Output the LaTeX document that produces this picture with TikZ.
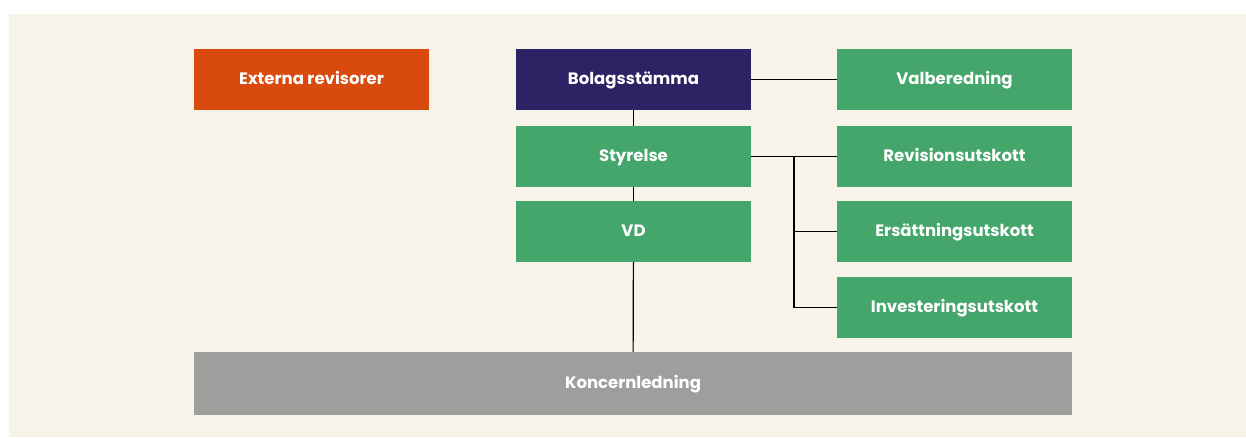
\documentclass[tikz,border=0pt]{standalone}
\usepackage{fontspec}
\setmainfont{Poppins}
\definecolor{bgbeige}{HTML}{F7F3E9}
\definecolor{orgorange}{HTML}{D94A0F}
\definecolor{orgnavy}{HTML}{2B2364}
\definecolor{orggreen}{HTML}{44A66B}
\definecolor{orggray}{HTML}{9E9E9C}
\tikzset{
  orgbox/.style={minimum width=235pt, minimum height=61pt, inner sep=0pt,
    text=white, font=\fontsize{16.5}{18}\selectfont\bfseries,
    text height=0.9em, text depth=0pt},
  orgline/.style={line width=1.2pt, black}
}
\begin{document}
\begin{tikzpicture}[x=1pt, y=-1pt]
        \useasboundingbox (0,0) rectangle (1246,437);
        \fill[bgbeige] (9,14) rectangle (1246,437);
            \begin{scope}
                % left and centre column
                \node[orgbox, fill=orgorange] (ext) at (311.5,79.5) {Externa revisorer};
                \node[orgbox, fill=orgnavy]   (bol) at (633.5,79.5) {Bolagsstämma};
                \node[orgbox, fill=orggreen]  (sty) at (633.5,156.5) {Styrelse};
                \node[orgbox, fill=orggreen]  (vd)  at (633.5,231.5) {VD};
                \node[orgbox, fill=orggray, minimum width=878pt, minimum height=63pt]
                      (kon) at (633,383.5) {Koncernledning};

                % right column
                \node[orgbox, fill=orggreen] (val) at (954.5,79.5) {Valberedning};
                \node[orgbox, fill=orggreen] (rev) at (954.5,156.5) {Revisionsutskott};
                \node[orgbox, fill=orggreen] (ers) at (954.5,231.5) {Ersättningsutskott};
                \node[orgbox, fill=orggreen] (inv) at (954.5,307.5) {Investeringsutskott};

                \coordinate (br) at (794,156.5);

                \draw[orgline] (bol) -- (sty);
                \draw[orgline] (sty) -- (vd);
                \draw[orgline] (vd) -- (kon);
                \draw[orgline] (bol) -- (val);
                \draw[orgline] (sty) -- (rev);
                \draw[orgline] (br) |- (ers.west);
                \draw[orgline] (br) |- (inv.west);
             \end{scope}
         \end{tikzpicture}
\end{document}
